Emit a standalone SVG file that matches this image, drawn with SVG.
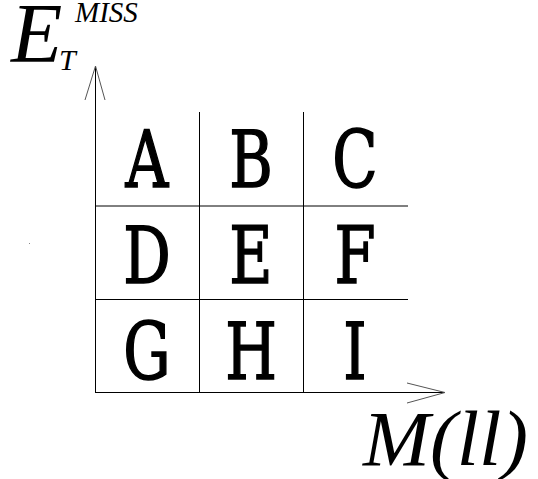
<svg xmlns="http://www.w3.org/2000/svg" width="538" height="479" viewBox="0 0 538 479">
<style>
.ln{stroke:#000;stroke-width:1;fill:none}
.ar{stroke:#555;stroke-width:1;fill:none}
.cell{font-family:"DejaVu Serif",serif;font-size:78px;fill:#000;stroke:#000;stroke-width:1.6;text-anchor:middle}
.it{font-family:"Liberation Serif","Times New Roman",serif;font-style:italic;fill:#000}
</style>
<rect width="538" height="479" fill="#fff"/>
<g id="connectors">
<line class="ln" x1="95.5" y1="66" x2="95.5" y2="393"/>
<polyline class="ar" points="85,100 95.5,66 105,100"/>
<line class="ln" x1="95" y1="392.5" x2="445" y2="392.5"/>
<polyline class="ar" points="407,383 445,392.5 407,403"/>
<line class="ln" x1="199.5" y1="112" x2="199.5" y2="393"/>
<line class="ln" x1="303.5" y1="112" x2="303.5" y2="393"/>
<line class="ln" x1="95" y1="206" x2="408" y2="206"/>
<line class="ln" x1="95" y1="299.5" x2="408" y2="299.5"/>
</g>
<g id="ylabel">
<text class="it" x="11" y="62" font-size="84">E</text>
<text class="it" x="59" y="70" font-size="30">T</text>
<text class="it" x="75" y="22" font-size="29">MISS</text>
</g>
<g id="xlabel">
<text class="it" x="363" y="465" font-size="79" textLength="165" lengthAdjust="spacingAndGlyphs">M(ll)</text>
</g>
<g id="A"><text class="cell" transform="translate(147,187) scale(0.76,1)">A</text></g>
<g id="B"><text class="cell" transform="translate(251,187) scale(0.76,1)">B</text></g>
<g id="C"><text class="cell" transform="translate(355,187) scale(0.76,1)">C</text></g>
<g id="D"><text class="cell" transform="translate(147,283) scale(0.76,1)">D</text></g>
<g id="E"><text class="cell" transform="translate(251,283) scale(0.76,1)">E</text></g>
<g id="F"><text class="cell" transform="translate(355,283) scale(0.76,1)">F</text></g>
<g id="G"><text class="cell" transform="translate(147,379) scale(0.76,1)">G</text></g>
<g id="H"><text class="cell" transform="translate(251,379) scale(0.76,1)">H</text></g>
<g id="I"><text class="cell" transform="translate(355,379) scale(0.76,1)">I</text></g>
<rect x="29" y="243" width="1" height="1" fill="#888"/>
</svg>
